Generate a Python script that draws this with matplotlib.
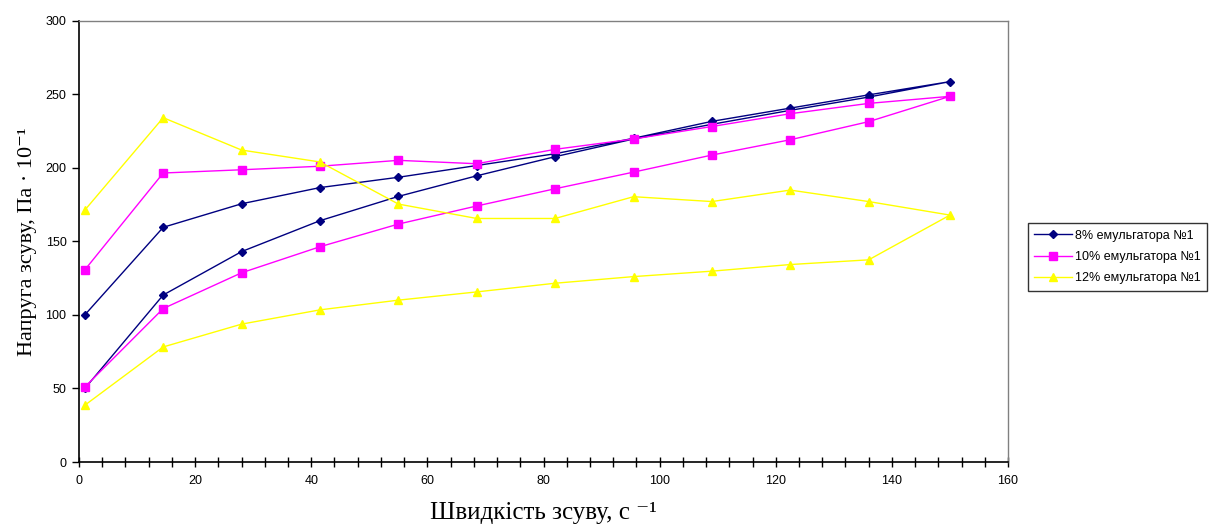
import matplotlib
matplotlib.use("Agg")
import matplotlib.pyplot as plt
from matplotlib.ticker import MultipleLocator

# shear rate, up-sweep then down-sweep (one continuous loop per series)
RATE_UP = [1, 14.5, 28, 41.5, 55, 68.5, 82, 95.5, 109, 122.5, 136, 150]
RATE_DOWN = [136, 122.5, 109, 95.5, 82, 68.5, 55, 41.5, 28, 14.5, 1]
RATE = RATE_UP + RATE_DOWN

S8 = [50, 113.5, 143, 164, 180.5, 194.5, 207.5, 219.5, 229.5, 239, 248, 258.5,
      249.5, 240.5, 231.5, 220, 209.5, 201.5, 193.5, 186.5, 175.5, 159.5, 100]
S10 = [51, 104.3, 128.6, 146.3, 161.7, 174, 185.7, 197, 208.6, 219, 231.3, 248.5,
       243.7, 236.7, 228, 219.5, 212.5, 202.7, 205, 201, 198.6, 196.4, 130.6]
S12 = [38.6, 78.2, 93.7, 103.4, 110, 115.6, 121.5, 126, 129.7, 134.2, 137.4, 167.8,
       177, 184.8, 177, 180.3, 165.5, 165.5, 175.3, 203.9, 212, 234, 171.2]

LABELS = ["8% емульгатора №1", "10% емульгатора №1", "12% емульгатора №1"]
COLORS = ["#000080", "#FF00FF", "#FFFF00"]
MARKERS = ["D", "s", "^"]
MSIZES = [4.5, 6, 6]

plt.rcParams["font.family"] = ["Liberation Sans", "DejaVu Sans"]

fig = plt.figure(figsize=(12.12, 5.27), dpi=100)
ax = fig.add_axes([0.0652, 0.1233, 0.7665, 0.8377])

for ys, lab, c, m, ms in zip([S8, S10, S12], LABELS, COLORS, MARKERS, MSIZES):
    ax.plot(RATE, ys, color=c, marker=m, markersize=ms, linewidth=1,
            markeredgecolor=c, label=lab)

ax.set_xlim(0, 160)
ax.set_ylim(0, 300)
ax.xaxis.set_major_locator(MultipleLocator(20))
ax.xaxis.set_minor_locator(MultipleLocator(4))
ax.yaxis.set_major_locator(MultipleLocator(50))
ax.tick_params(axis="x", which="both", direction="inout", length=7, width=1,
               labelsize=9, pad=6)
ax.tick_params(axis="y", which="major", direction="out", length=5, width=1,
               labelsize=9, pad=4)

for s in ["left", "bottom"]:
    ax.spines[s].set_color("black")
    ax.spines[s].set_linewidth(1.2)
for s in ["top", "right"]:
    ax.spines[s].set_color("#808080")
    ax.spines[s].set_linewidth(1)

serif = ["Liberation Serif", "DejaVu Serif"]
ax.set_xlabel("Швидкість зсуву, с ⁻¹", family=serif, fontsize=18, labelpad=11)
ax.set_ylabel("Напруга зсуву, Па · 10⁻¹", family=serif, fontsize=16, labelpad=6)

leg = fig.legend(loc="upper left", bbox_to_anchor=(0.843, 0.588), fontsize=9,
                 frameon=True, fancybox=False, edgecolor="black",
                 handlelength=3.0, borderpad=0.5, labelspacing=0.75,
                 handletextpad=0.3)
leg.get_frame().set_linewidth(1)

fig.savefig("out.png", dpi=100)
